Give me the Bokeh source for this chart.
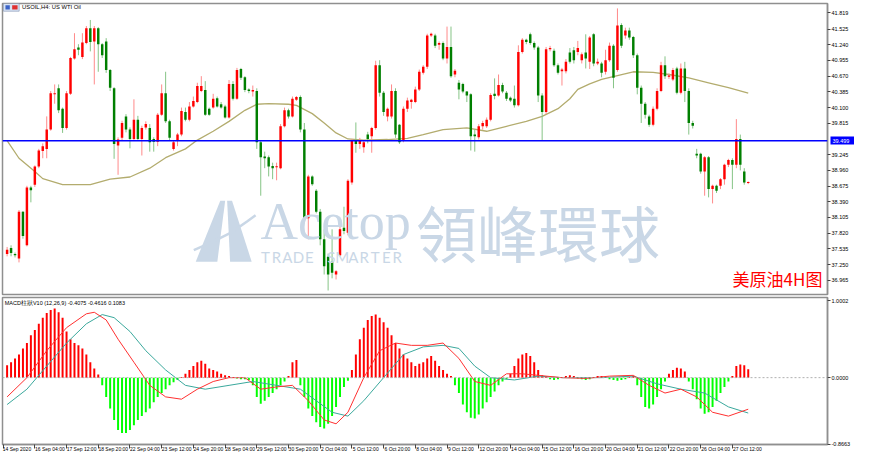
import numpy as np
from bokeh.plotting import figure
from bokeh.layouts import column
from bokeh.models import (ColumnDataSource, Span, Label, FixedTicker, Range1d,
                          NumeralTickFormatter, LinearAxis)
from bokeh.embed import file_html
from bokeh.resources import INLINE

# ---------------- data ----------------
opens = [37.44,37.55,37.44,37.36,38.21,37.60,38.65,38.70,39.03,39.31,39.35,39.70,40.34,40.45,40.08,39.73,40.35,40.99,41.19,41.02,
         41.27,41.54,41.30,41.54,41.25,41.30,40.78,40.45,39.41,39.55,39.94,39.70,39.53,39.88,39.53,39.74,39.73,39.53,39.48,39.97,
         40.36,39.85,39.35,39.50,39.61,40.02,39.88,40.12,40.20,40.40,40.42,40.08,40.10,40.27,40.16,40.12,39.92,40.53,40.26,40.80,
         40.65,40.43,40.39,40.40,39.47,39.21,39.20,39.04,39.02,39.00,39.76,40.05,39.94,
         40.24,40.29,39.70,38.09,38.85,38.59,38.21,37.71,37.39,37.30,37.07,37.42,37.92,37.83,38.74,39.50,39.44,39.38,39.61,39.58,
         39.73,40.87,40.37,39.94,39.94,40.40,39.79,39.50,40.08,40.20,40.20,40.43,40.73,40.84,41.41,41.41,41.24,41.27,40.99,41.20,
         40.70,40.55,40.53,40.39,40.34,39.61,39.56,39.76,39.76,39.88,40.35,40.32,40.51,40.37,40.28,40.26,40.14,41.11,41.33,41.43,
         41.27,41.19,40.32,40.02,41.16,41.13,40.87,40.76,40.76,41.10,
         41.14,41.11,40.96,41.10,40.93,41.43,40.90,40.90,40.75,40.96,41.22,40.78,41.60,41.41,41.50,41.38,41.05,40.46,40.17,39.94,
         39.79,40.08,40.40,40.87,40.66,40.61,40.81,40.37,40.81,40.40,39.82,39.26,39.26,38.94,39.20,38.62,38.68,38.68,38.80,39.06,
         39.15,39.06,39.53,38.94,38.73]
highs = [37.57,37.60,37.47,38.24,38.22,38.68,38.68,39.05,39.35,39.45,39.94,40.40,40.52,40.52,40.10,40.40,41.02,41.45,41.25,41.45,
         41.58,41.69,41.58,41.56,41.27,41.36,40.80,40.47,39.56,39.86,39.98,39.74,40.25,39.95,39.77,39.85,39.80,39.56,40.00,40.52,
         40.75,39.88,39.50,39.64,40.10,40.10,40.20,40.30,40.55,40.67,40.58,40.10,40.35,40.30,40.20,40.15,40.60,40.58,40.82,40.82,
         40.67,40.45,40.50,40.45,39.50,39.30,39.23,39.10,39.10,39.80,40.10,40.08,40.30,
         40.31,40.32,39.82,38.88,38.87,38.62,38.26,37.89,37.45,37.89,37.15,37.95,38.30,38.80,39.53,39.83,39.55,39.50,39.66,39.75,
         40.95,40.96,40.40,40.10,40.52,40.45,39.80,40.12,40.28,40.26,40.48,40.79,40.87,41.44,41.46,41.44,41.30,41.30,41.57,41.57,
         40.80,40.60,40.55,40.40,40.36,39.70,39.80,39.86,39.92,40.36,40.63,40.70,40.55,40.40,40.30,40.50,41.23,41.36,41.35,41.46,
         41.30,41.22,40.36,41.20,41.22,41.17,40.90,40.82,40.98,41.18,
         41.20,41.31,41.10,41.43,41.40,41.45,40.99,40.93,41.15,41.28,41.25,41.90,41.63,41.55,41.55,41.40,41.08,40.50,40.20,39.97,
         40.12,40.45,40.93,41.03,40.72,40.82,40.84,40.90,40.93,40.45,39.86,39.35,39.28,39.22,39.22,38.70,38.70,38.82,39.08,39.17,
         39.18,39.89,39.61,39.00,38.76]
lows = [37.40,37.40,37.38,37.29,37.72,37.58,38.38,38.66,39.00,39.18,39.18,39.68,40.17,40.00,39.64,39.70,40.33,40.97,41.05,40.98,
        41.25,41.12,40.52,40.75,41.00,40.73,40.40,39.17,38.88,39.50,39.65,39.36,39.50,39.50,39.23,39.70,39.30,39.30,39.40,39.95,
        39.82,39.50,39.32,39.40,39.58,39.85,39.85,40.10,40.18,40.38,39.95,39.95,40.08,40.10,40.08,39.90,39.90,40.23,40.24,40.60,
        40.38,40.36,40.30,39.35,38.50,39.00,38.85,38.80,38.78,38.98,39.74,39.90,39.92,
        40.22,39.65,38.03,37.71,38.68,38.18,37.60,37.07,36.78,37.00,36.98,37.40,37.80,37.78,38.70,39.28,39.35,39.28,39.45,39.28,
        39.70,40.30,39.95,39.85,39.90,39.55,39.44,39.47,40.02,40.08,40.18,40.40,40.70,40.80,41.38,41.18,41.15,40.96,40.90,40.64,
        40.65,40.25,40.36,40.20,39.32,39.30,39.52,39.70,39.73,39.85,40.25,40.30,40.36,40.22,40.20,40.10,40.12,41.08,41.25,41.24,
        41.15,40.20,39.50,39.98,41.12,40.84,40.70,40.50,40.72,40.90,
        40.90,41.05,40.90,40.81,40.80,40.85,40.87,40.65,40.70,40.93,40.45,40.75,41.18,41.35,41.33,41.00,40.34,39.82,39.90,39.75,
        39.76,40.05,40.38,40.62,40.62,40.58,40.34,40.34,40.20,39.61,39.72,39.18,38.90,38.50,38.47,38.36,38.55,38.62,38.70,39.02,
        38.62,39.00,38.96,38.70,38.71]
closes = [37.52,37.46,37.42,38.21,37.77,38.65,38.60,39.03,39.32,39.40,39.70,40.36,40.36,40.05,39.73,40.36,41.00,41.16,41.15,41.28,
          41.54,41.29,41.54,41.25,41.05,40.78,40.46,39.44,39.52,39.82,39.70,39.53,39.88,39.53,39.73,39.80,39.47,39.48,39.97,40.36,
          39.85,39.55,39.47,39.61,40.04,39.88,40.12,40.22,40.49,40.49,39.97,39.97,40.26,40.12,40.10,39.92,40.53,40.26,40.78,40.64,
          40.42,40.40,40.42,39.47,39.20,39.18,39.03,39.00,39.03,39.76,40.05,39.94,40.26,
          40.29,39.70,38.09,38.85,38.71,38.21,37.71,37.22,37.07,37.10,37.13,37.89,37.86,38.77,39.50,39.44,39.50,39.47,39.53,39.73,
          40.87,40.37,40.02,40.08,40.40,39.61,39.47,40.08,40.23,40.24,40.43,40.75,40.84,41.41,41.44,41.22,41.27,40.99,41.20,40.67,
          40.77,40.43,40.39,40.32,39.58,39.58,39.76,39.82,39.88,40.33,40.31,40.51,40.39,40.26,40.23,40.14,41.11,41.33,41.29,41.27,
          41.19,40.32,40.02,41.16,41.18,40.87,40.73,40.79,40.93,40.93,
          40.96,41.18,41.07,40.99,41.37,40.90,40.93,40.73,40.96,41.22,40.64,41.59,41.22,41.50,41.37,41.05,40.46,40.17,39.97,39.79,
          40.08,40.40,40.87,40.67,40.68,40.78,40.37,40.81,40.40,39.82,39.77,39.23,38.94,39.20,38.62,38.68,38.59,38.80,39.06,39.15,
          39.06,39.53,39.06,38.74,38.75]

ma_idx = [0,3,7,9,14,21,26,31,36,40,45,48,52,56,60,63,66,71,73,77,80,83,86,90,96,101,105,110,116,121,126,131,135,139,142,144,147,150,154,158,163,167,172,177,182,187]
ma_val = [39.50,39.18,38.94,38.81,38.70,38.70,38.80,38.84,39.00,39.19,39.35,39.51,39.67,39.85,40.05,40.16,40.17,40.16,40.14,39.99,39.82,39.64,39.53,39.51,39.52,39.54,39.61,39.70,39.73,39.67,39.76,39.85,39.94,40.08,40.26,40.43,40.53,40.61,40.68,40.75,40.74,40.70,40.64,40.55,40.46,40.36]

level_price = 39.499

hist = [0.16,0.2,0.25,0.3,0.38,0.45,0.55,0.62,0.7,0.78,0.84,0.88,0.9,0.85,0.78,0.6,0.5,0.45,0.42,0.38,0.3,0.2,0.12,
        0.04,
        -0.1,-0.25,-0.4,-0.55,-0.68,-0.72,-0.72,-0.68,-0.62,-0.55,-0.5,-0.45,-0.4,-0.32,-0.25,-0.2,-0.15,-0.1,-0.06,-0.03,
        0.01,
        0.05,0.1,0.15,0.2,0.22,0.18,0.12,0.1,0.08,0.05,0.03,
        0.02,0.01,-0.01,-0.02,-0.02,-0.03,
        -0.1,-0.25,-0.34,-0.3,-0.25,-0.2,-0.15,-0.1,-0.05,0.02,
        0.2,0.23,
        -0.1,-0.25,-0.4,-0.5,-0.58,-0.64,-0.66,-0.6,-0.5,-0.38,-0.25,-0.12,-0.04,
        0.1,0.3,0.5,0.65,0.75,0.8,0.82,0.78,0.72,0.65,0.55,0.45,0.38,0.3,0.25,0.2,0.15,0.18,0.2,0.25,0.28,0.22,0.15,0.1,0.05,0.02,
        -0.1,-0.2,-0.35,-0.45,-0.52,-0.53,-0.48,-0.4,-0.32,-0.25,-0.18,-0.1,-0.05,-0.02,
        0.05,0.15,0.25,0.3,0.32,0.28,0.2,0.1,
        0.03,0.02,-0.02,-0.03,-0.02,0.01,0.02,0.03,0.02,-0.01,-0.02,-0.03,-0.02,0.01,0.02,0.02,0.01,-0.02,-0.03,-0.04,-0.03,-0.02,0.01,0.02,
        -0.1,-0.25,-0.38,-0.4,-0.35,-0.25,-0.15,-0.05,
        0.05,0.1,0.13,0.12,0.08,
        -0.05,-0.15,-0.28,-0.4,-0.47,-0.45,-0.38,-0.3,-0.2,-0.12,-0.05,
        0.02,0.15,0.17,0.16,0.11]

dif_idx = [0,5,10,15,20,22,25,28,32,36,40,44,48,52,56,60,64,68,72,76,80,83,86,90,94,98,102,106,110,114,118,122,126,130,134,140,146,152,158,162,166,170,174,178,182,187]
dif_val = [-0.25,0.0,0.35,0.65,0.83,0.85,0.75,0.5,0.2,-0.1,-0.25,-0.28,-0.15,-0.05,0.0,0.0,-0.15,-0.12,-0.1,-0.3,-0.55,-0.6,-0.45,0.0,0.35,0.45,0.42,0.42,0.45,0.25,-0.05,-0.1,0.05,0.05,0.03,0.0,-0.01,0.02,0.03,-0.1,-0.2,-0.15,-0.25,-0.45,-0.5,-0.41]
dea_idx = [0,5,10,15,20,24,27,31,35,40,45,50,56,62,68,74,78,82,86,90,95,100,105,110,114,118,122,128,134,140,150,158,164,170,176,182,187]
dea_val = [-0.35,-0.15,0.15,0.45,0.7,0.82,0.78,0.6,0.35,0.1,-0.1,-0.15,-0.1,-0.05,-0.1,-0.15,-0.3,-0.45,-0.5,-0.3,0.0,0.3,0.4,0.42,0.38,0.15,0.0,-0.03,0.02,0.0,0.0,0.02,-0.08,-0.15,-0.2,-0.38,-0.46]

price_ticks = [41.819,41.525,41.240,40.955,40.670,40.385,40.100,39.815,39.245,38.960,38.675,38.390,38.105,37.820,37.535,37.250,36.965]
macd_ticks = [1.0002, 0.0, -0.8663]
time_tick_idx = [-1,7,15,23,31,39,47,55,63,71,79,87,95,103,111,119,127,135,143,151,159,167,175,183]
time_tick_labels = ["14 Sep 2020","16 Sep 04:00","17 Sep 12:00","18 Sep 20:00","22 Sep 04:00","23 Sep 12:00",
                    "24 Sep 20:00","28 Sep 04:00","29 Sep 12:00","30 Sep 20:00","2 Oct 04:00","5 Oct 12:00",
                    "6 Oct 20:00","8 Oct 04:00","9 Oct 12:00","12 Oct 20:00","14 Oct 04:00","15 Oct 12:00",
                    "16 Oct 20:00","20 Oct 04:00","21 Oct 12:00","22 Oct 20:00","26 Oct 04:00","27 Oct 12:00"]

title_text = "USOIL,H4:  US WTI Oil"
macd_text = "MACD柱狀V10 (12,26,9) -0.4075 -0.4616 0.1083"
tag_text = "美原油4H图"
wm_latin = "Acetop"
wm_sub = "TRADE SMARTER"
wm_cjk = "領峰環球"

# ---------------- build ----------------
W = 854
BL, BR = 2, 27
X0, X1 = -1.16, 207.0
Y0, Y1 = 36.707, 41.989
M0, M1 = -0.869, 1.042
GRAY = "#8f8f8f"
FONT = "Liberation Sans"
PX_PER_BAR = (W - BL - BR) / (X1 - X0)

o = np.array(opens); h = np.array(highs); l = np.array(lows); c = np.array(closes)
idx = np.arange(len(o))
up = c >= o
top = np.maximum(o, c); bot = np.minimum(o, c)
mid = (top + bot) / 2
top = np.maximum(top, mid + 0.008); bot = np.minimum(bot, mid - 0.008)

def px(xp, yp):
    # reference-pixel helper, used for decorative watermark/label placement only
    return (xp - 6.7) / 4.04, 42.042 - yp / 56.98

p1 = figure(width=W, height=296, x_range=Range1d(X0, X1), y_range=Range1d(Y0, Y1),
            x_axis_location=None, y_axis_location="right", output_backend="svg",
            toolbar_location=None, min_border_left=BL, min_border_right=BR,
            min_border_top=3, min_border_bottom=2)

# watermark
wm = "#c9d7e6"
lx, ly = [], []
for a, b in [(199, 270), (224, 207), (229, 207), (221, 270)]:
    xx, yy = px(a, b); lx.append(xx); ly.append(yy)
rx, ry = [], []
for a, b in [(234, 270), (231, 207), (236, 207), (256, 270)]:
    xx, yy = px(a, b); rx.append(xx); ry.append(yy)
p1.patch(lx, ly, fill_color=wm, line_color=None)
p1.patch(rx, ry, fill_color=wm, line_color=None)
sx, sy = [], []
for a, b in [(197, 258), (215, 250), (235, 240), (252, 228), (260, 222)]:
    xx, yy = px(a, b); sx.append(xx); sy.append(yy)
p1.line(sx, sy, line_color=wm, line_width=2.5)
ax_, ay_ = px(265, 228)
p1.add_layout(Label(x=ax_, y=ay_, text=wm_latin, text_font="Liberation Serif", text_font_size="52px",
                    text_color=wm, text_baseline="middle", text_align="left"))
for k, ch in enumerate(wm_sub):
    tx_, ty_ = px(270 + k * 11.2, 265)
    p1.add_layout(Label(x=tx_, y=ty_, text=ch, text_font="Lato", text_font_size="15px",
                        text_color=wm, text_baseline="middle", text_align="center"))
cx_, cy_ = px(548, 239)
p1.add_layout(Label(x=cx_, y=cy_, text=wm_cjk, text_font="Noto Sans CJK TC", text_font_size="61px",
                    text_color=wm, text_baseline="middle", text_align="center"))

# level line
p1.add_layout(Span(location=level_price, dimension="width", line_color="#0000ff", line_width=1.5))

# moving average
p1.line(ma_idx, ma_val, line_color="#b3ac6e", line_width=1.3)

# candles
src_up = ColumnDataSource(dict(x=idx[up], hi=h[up], lo=l[up], top=top[up], bot=bot[up]))
src_dn = ColumnDataSource(dict(x=idx[~up], hi=h[~up], lo=l[~up], top=top[~up], bot=bot[~up]))
p1.segment(x0="x", y0="lo", x1="x", y1="hi", source=src_up, line_color="#ff8a8a", line_width=1)
p1.segment(x0="x", y0="lo", x1="x", y1="hi", source=src_dn, line_color="#86c486", line_width=1)
p1.vbar(x="x", width=0.62, top="top", bottom="bot", source=src_up, fill_color="#ff0000", line_color=None)
p1.vbar(x="x", width=0.62, top="top", bottom="bot", source=src_dn, fill_color="#007f00", line_color=None)

# texts
tlx, tly = px(22, 4)
p1.add_layout(Label(x=tlx, y=tly, text=title_text, text_font=FONT, text_font_size="5.8px",
                    text_color="#000000", text_baseline="top", text_align="left"))
ix1, iy1 = px(3, 3)
ix2, iy2 = px(19, 11)
p1.quad(left=[ix1], right=[ix2], top=[iy1], bottom=[iy2], fill_color="#d8e4f4", line_color="#7d8fb0", line_width=0.6)
p1.quad(left=[ix1 + 0.5], right=[ix1 + 1.6], top=[iy1 - 0.03], bottom=[iy2 + 0.03], fill_color="#3c64c8", line_color=None)
p1.quad(left=[ix1 + 2.2], right=[ix2 - 0.4], top=[iy1 - 0.03], bottom=[iy2 + 0.03], fill_color="#e03030", line_color=None)

rtx, rty = px(792, 287)
p1.add_layout(Label(x=rtx, y=rty, text=tag_text, text_font="Noto Sans CJK SC", text_font_size="17px",
                    text_color="#ff0000", text_baseline="middle", text_align="center"))

# ---------------- MACD ----------------
p2 = figure(width=W, height=158, x_range=p1.x_range, y_range=Range1d(M0, M1),
            y_axis_location="right", output_backend="svg", toolbar_location=None,
            min_border_left=BL, min_border_right=BR, min_border_top=1, min_border_bottom=4)
hv = np.array(hist)
pos = hv >= 0
p2.add_layout(Span(location=0, dimension="width", line_color="#b0b0b0", line_width=1, line_dash="2 2"))
p2.vbar(x=idx[pos], width=0.5, top=hv[pos], bottom=0, fill_color="#ff0000", line_color=None)
p2.vbar(x=idx[~pos], width=0.5, top=0, bottom=hv[~pos], fill_color="#00ff00", line_color=None)
p2.line(dea_idx, dea_val, line_color="#3aa89c", line_width=1)
p2.line(dif_idx, dif_val, line_color="#ff3030", line_width=1)
p2.add_layout(Label(x=-0.6, y=0.965, text=macd_text, text_font=FONT, text_font_size="5.5px",
                    text_color="#000000", text_baseline="middle", text_align="left"))

for p in (p1, p2):
    p.grid.visible = False
    p.outline_line_color = GRAY
    p.outline_line_width = 1.5
    p.background_fill_color = "white"
    p.border_fill_color = "white"
    ax = p.yaxis[0]
    ax.axis_line_color = GRAY
    ax.axis_line_width = 1.5
    ax.major_tick_out = 3
    ax.major_tick_in = 0
    ax.major_tick_line_color = "#444444"
    ax.minor_tick_line_color = None
    ax.major_label_standoff = 1
    ax.major_label_text_font = FONT
    ax.major_label_text_font_size = "5.5px"
    ax.major_label_text_color = "#000000"

p1.yaxis[0].ticker = FixedTicker(ticks=price_ticks)
p1.yaxis[0].formatter = NumeralTickFormatter(format="0.000")
p2.yaxis[0].ticker = FixedTicker(ticks=macd_ticks)
p2.yaxis[0].formatter = NumeralTickFormatter(format="0.0000")

# price tag of the level line: a second right-hand scale whose single tick is drawn
# as a wide blue bar reaching back over the price labels, with its label in white on it
tag_axis = LinearAxis(ticker=FixedTicker(ticks=[level_price]), formatter=NumeralTickFormatter(format="0.000"),
                      axis_line_color=None, major_tick_in=21, major_tick_out=4,
                      major_tick_line_color="#0000ff", major_tick_line_width=8,
                      minor_tick_line_color=None, major_label_standoff=-23,
                      major_label_text_color="#ffffff", major_label_text_font=FONT,
                      major_label_text_font_size="5.5px")
p1.add_layout(tag_axis, "right")

# time scale: tick marks on the frame edge, labels written to the right of each tick
xa = p2.xaxis[0]
xa.ticker = FixedTicker(ticks=time_tick_idx)
xa.major_label_overrides = {k: "" for k in time_tick_idx}
xa.major_label_text_font_size = "1px"
xa.major_label_standoff = 0
xa.axis_line_color = GRAY
xa.axis_line_width = 1.5
xa.major_tick_out = 4
xa.major_tick_in = 0
xa.major_tick_line_color = "#444444"
xa.minor_tick_line_color = None

label_pos = [t + (len(s) * 2.3 / 2 + 1.2) / PX_PER_BAR for t, s in zip(time_tick_idx, time_tick_labels)]
xb = LinearAxis(ticker=FixedTicker(ticks=label_pos),
                major_label_overrides={k: v for k, v in zip(label_pos, time_tick_labels)},
                axis_line_color=None, major_tick_line_color=None, minor_tick_line_color=None,
                major_tick_out=0, major_tick_in=0, major_label_standoff=-3,
                major_label_text_font=FONT, major_label_text_font_size="5px",
                major_label_text_color="#000000")
p2.add_layout(xb, "below")

layout = column(p1, p2, spacing=0)
open("out.html", "w").write(file_html(layout, INLINE))
